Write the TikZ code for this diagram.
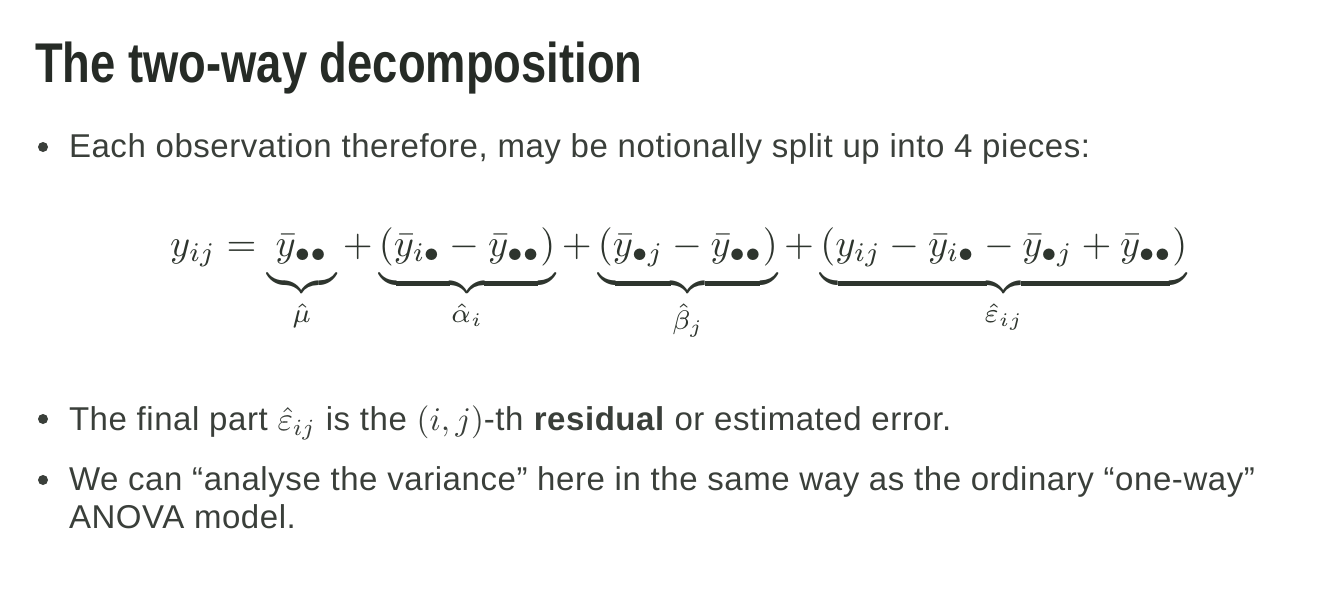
\documentclass[tikz,border=0pt]{standalone}
\usepackage{amsmath}
\usepackage{graphicx}
\usepackage{fontspec}
\setmainfont[LetterSpace=1.7]{Liberation Sans}
\newfontfamily\titlefont[FakeStretch=0.81]{Liberation Sans}
\definecolor{titlecol}{HTML}{262B26}
\definecolor{bodycol}{HTML}{3A3F3A}
\definecolor{mathcol}{HTML}{2E352E}
\newcommand{\dstrut}{\rule[-0.36em]{0pt}{0.5em}}
\newcommand{\mth}[1]{\scalebox{3.3}{\fontsize{10}{12}\selectfont$#1$}}
\begin{document}
\begin{tikzpicture}[x=1pt,y=-1pt,
  txt/.style={anchor=base west,inner sep=0pt,outer sep=0pt,text=bodycol,font=\fontsize{33}{38}\selectfont},
  bul/.style={circle,fill=bodycol,inner sep=0pt,minimum size=10pt}]
\useasboundingbox (0,0) rectangle (1338,608);
\fill[white] (0,0) rectangle (1338,608);
\node[anchor=base west,inner sep=0pt,text=titlecol,font=\titlefont\bfseries\fontsize{56}{60}\selectfont] (title) at (35,82) {The two-way decomposition};
\node[bul] (b1) at (43,147) {};
\node[txt] (t1) at (69,157) {Each observation therefore, may be notionally split up into 4 pieces:};
\node[anchor=base west,inner sep=0pt,text=mathcol] (eq) at (170,256) {\resizebox{1017pt}{!}{\fontsize{10}{12}\selectfont$\displaystyle
 y_{ij} = \underbrace{\bar{y}_{\bullet\bullet}\dstrut}_{\hat{\mu}}
 + \underbrace{(\bar{y}_{i\bullet} - \bar{y}_{\bullet\bullet})\dstrut}_{\hat{\alpha}_i}
 + \underbrace{(\bar{y}_{\bullet j} - \bar{y}_{\bullet\bullet})\dstrut}_{\hat{\beta}_j}
 + \underbrace{(y_{ij} - \bar{y}_{i\bullet} - \bar{y}_{\bullet j} + \bar{y}_{\bullet\bullet})\dstrut}_{\hat{\varepsilon}_{ij}}$}};
\node[bul] (b2) at (43,419) {};
\node[txt] (t2) at (69,430.5) {The final part \mth{\hat{\varepsilon}_{ij}} is the \mth{(i,j)}-th \textbf{residual} or estimated error.};
\node[bul] (b3) at (43,480) {};
\node[txt] (t3) at (69,490.5) {We can “analyse the variance” here in the same way as the ordinary “one-way”};
\node[txt] (t4) at (69,528) {ANOVA model.};
\end{tikzpicture}
\end{document}
